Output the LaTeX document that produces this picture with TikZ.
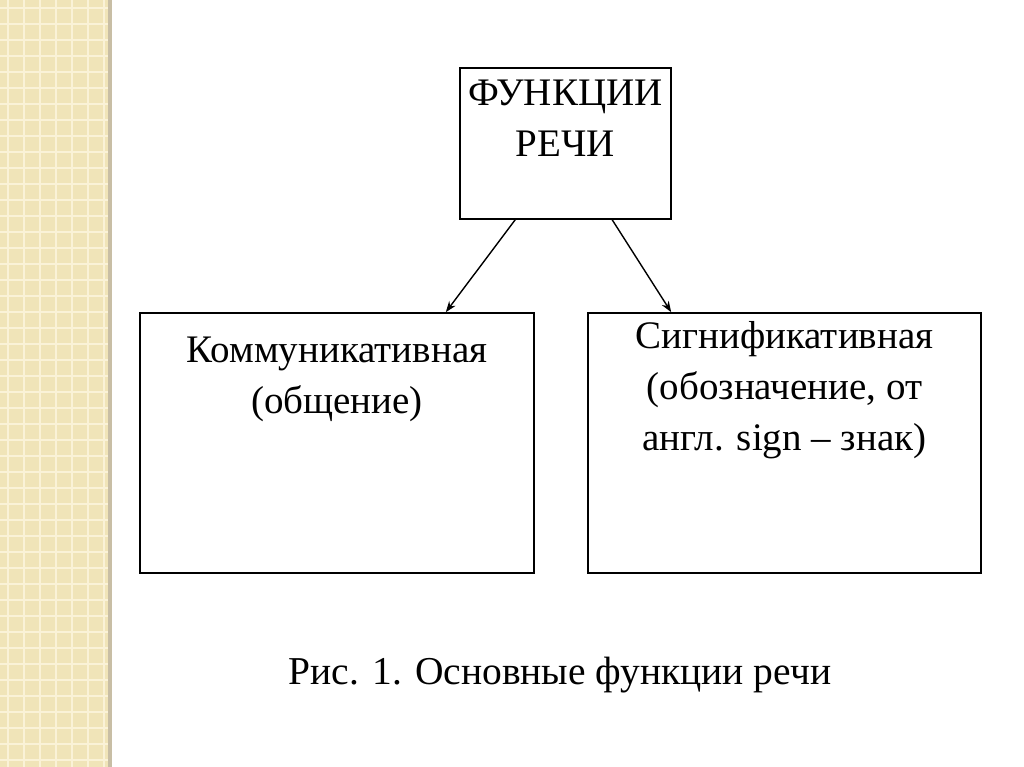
\documentclass[tikz,border=0pt]{standalone}
\usepackage{fontspec}
\setmainfont{Liberation Serif}
\usetikzlibrary{calc,arrows.meta}
\definecolor{strip}{RGB}{240,228,184}
\definecolor{stripline}{RGB}{250,242,215}
\definecolor{shadow}{RGB}{200,190,165}
\tikzset{every picture/.style={line width=1.6pt}}
\tikzset{
  framebox/.style={draw, minimum width=#1, inner sep=0pt},
  boxtext/.style={anchor=north, align=center, inner sep=0pt, font=\fontsize{39}{51}\selectfont},
  link/.style={-{Stealth[length=11pt,width=8pt]}, line width=1.4pt}
}
\begin{document}
\begin{tikzpicture}[x=1pt,y=-1pt]
\useasboundingbox (0,0) rectangle (1024,767);

% background strip
\fill[strip] (0,0) rectangle (108,767);
\foreach \k in {0,...,47} \draw[stripline, line width=1.5pt] (0,{16*\k+8}) -- (108,{16*\k+8});
\foreach \k in {0,...,6} \draw[stripline, line width=1.5pt] ({16*\k+8},0) -- ({16*\k+8},767);
\fill[shadow] (108,0) rectangle (112,767);

% boxes
\node[framebox=211pt, minimum height=151pt] (top) at (565.5,143.5) {};
\node[framebox=394pt, minimum height=260pt] (left) at (337,443) {};
\node[framebox=393pt, minimum height=260pt] (right) at (784.5,443) {};

% texts
\node[boxtext] (toptext) at ($(top.north)+(0,12)$) {ФУНКЦИИ\\РЕЧИ};
\node[boxtext] (lefttext) at ($(left.north)+(0,24)$) {Коммуникативная\\(общение)};
\node[boxtext] (righttext) at ($(right.north)+(0,8)$) {Сигнификативная\\(обозначение, от\\англ. sign – знак)};

% arrows
\draw[link] ($(top.south west)+(56,0)$) -- ($(left.north east)+(-89,0)$);
\draw[link] ($(top.south west)+(153,0)$) -- ($(right.north west)+(84,0)$);

% caption
\node[font=\fontsize{39.5}{46}\selectfont] (caption) at (560,675) {Рис. 1. Основные функции речи};
\end{tikzpicture}
\end{document}
